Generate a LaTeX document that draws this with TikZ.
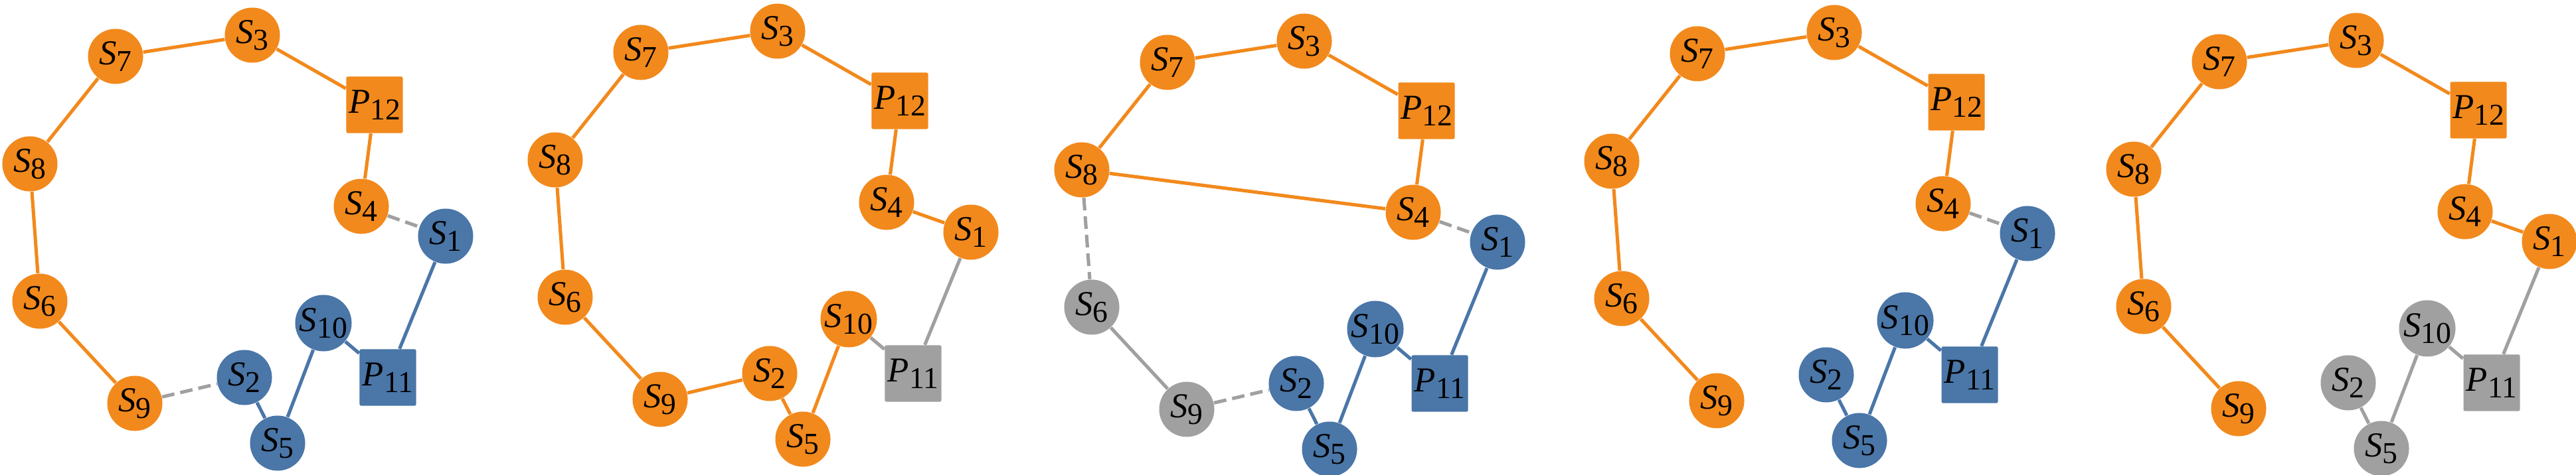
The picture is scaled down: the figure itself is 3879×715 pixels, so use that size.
\documentclass[tikz,border=0pt]{standalone}
\usepackage{fontspec}
\setmainfont{Liberation Serif}
\definecolor{og}{RGB}{242,137,28}
\definecolor{bl}{RGB}{74,118,168}
\definecolor{gr}{RGB}{160,160,160}
\newcommand{\lab}[2]{\textit{#1}\raisebox{-0.19em}{\fontsize{13}{13}\selectfont #2}}
\tikzset{
  sn/.style={circle, minimum size=0.83cm, inner sep=0pt, text=black, font=\fontsize{15}{15}\selectfont},
  sq/.style={rectangle, minimum size=0.85cm, inner sep=0pt, rounded corners=0.6pt, text=black, font=\fontsize{15}{15}\selectfont},
  O/.style={fill=og}, B/.style={fill=bl}, G/.style={fill=gr},
  eo/.style={draw=og, line width=1.45pt},
  eb/.style={draw=bl, line width=1.45pt},
  eg/.style={draw=gr, line width=1.45pt},
  ed/.style={draw=gr, line width=1.45pt, dash pattern=on 0.19cm off 0.09cm},
}
\begin{document}
\begin{tikzpicture}[x=0.01cm, y=-0.01cm]
\useasboundingbox (0,0) rectangle (3879,715);
% ---------- panel 1
\begin{scope}[shift={(0,2)}]
\node[sn,O] (aS7) at (174,83) {\lab{S}{7}};
\node[sn,O] (aS3) at (380,51) {\lab{S}{3}};
\node[sq,O] (aP12) at (564,156) {\lab{P}{12}};
\node[sn,O] (aS8) at (45,245) {\lab{S}{8}};
\node[sn,O] (aS4) at (544,309) {\lab{S}{4}};
\node[sn,B] (aS1) at (671,354) {\lab{S}{1}};
\node[sn,O] (aS6) at (60,452) {\lab{S}{6}};
\node[sn,B] (aS10) at (487,485) {\lab{S}{10}};
\node[sq,B] (aP11) at (584,567) {\lab{P}{11}};
\node[sn,O] (aS9) at (203,606) {\lab{S}{9}};
\node[sn,B] (aS2) at (368,567) {\lab{S}{2}};
\node[sn,B] (aS5) at (418,666) {\lab{S}{5}};
\end{scope}
\draw[eo] (aS7) -- (aS3); \draw[eo] (aS3) -- (aP12); \draw[eo] (aP12) -- (aS4);
\draw[eo] (aS7) -- (aS8); \draw[eo] (aS8) -- (aS6); \draw[eo] (aS6) -- (aS9);
\draw[ed] (aS4) -- (aS1); \draw[ed] (aS9) -- (aS2);
\draw[eb] (aS1) -- (aP11); \draw[eb] (aP11) -- (aS10); \draw[eb] (aS10) -- (aS5); \draw[eb] (aS5) -- (aS2);
% ---------- panel 2
\begin{scope}[shift={(791,-4)}]
\node[sn,O] (bS7) at (174,83) {\lab{S}{7}};
\node[sn,O] (bS3) at (380,51) {\lab{S}{3}};
\node[sq,O] (bP12) at (564,156) {\lab{P}{12}};
\node[sn,O] (bS8) at (45,245) {\lab{S}{8}};
\node[sn,O] (bS4) at (544,309) {\lab{S}{4}};
\node[sn,O] (bS1) at (671,354) {\lab{S}{1}};
\node[sn,O] (bS6) at (60,452) {\lab{S}{6}};
\node[sn,O] (bS10) at (487,485) {\lab{S}{10}};
\node[sq,G] (bP11) at (584,567) {\lab{P}{11}};
\node[sn,O] (bS9) at (203,606) {\lab{S}{9}};
\node[sn,O] (bS2) at (368,567) {\lab{S}{2}};
\node[sn,O] (bS5) at (418,666) {\lab{S}{5}};
\end{scope}
\draw[eo] (bS7) -- (bS3); \draw[eo] (bS3) -- (bP12); \draw[eo] (bP12) -- (bS4);
\draw[eo] (bS7) -- (bS8); \draw[eo] (bS8) -- (bS6); \draw[eo] (bS6) -- (bS9);
\draw[eo] (bS4) -- (bS1); \draw[eo] (bS9) -- (bS2); \draw[eo] (bS2) -- (bS5); \draw[eo] (bS5) -- (bS10);
\draw[eg] (bS10) -- (bP11); \draw[eg] (bP11) -- (bS1);
% ---------- panel 3
\begin{scope}[shift={(1584,11)}]
\node[sn,O] (cS7) at (174,83) {\lab{S}{7}};
\node[sn,O] (cS3) at (380,51) {\lab{S}{3}};
\node[sq,O] (cP12) at (564,156) {\lab{P}{12}};
\node[sn,O] (cS8) at (45,245) {\lab{S}{8}};
\node[sn,O] (cS4) at (544,309) {\lab{S}{4}};
\node[sn,B] (cS1) at (671,354) {\lab{S}{1}};
\node[sn,G] (cS6) at (60,452) {\lab{S}{6}};
\node[sn,B] (cS10) at (487,485) {\lab{S}{10}};
\node[sq,B] (cP11) at (584,567) {\lab{P}{11}};
\node[sn,G] (cS9) at (203,606) {\lab{S}{9}};
\node[sn,B] (cS2) at (368,567) {\lab{S}{2}};
\node[sn,B] (cS5) at (418,666) {\lab{S}{5}};
\end{scope}
\draw[eo] (cS7) -- (cS3); \draw[eo] (cS3) -- (cP12); \draw[eo] (cP12) -- (cS4);
\draw[eo] (cS7) -- (cS8); \draw[eo] (cS8) -- (cS4);
\draw[ed] (cS8) -- (cS6); \draw[eg] (cS6) -- (cS9);
\draw[ed] (cS4) -- (cS1); \draw[ed] (cS9) -- (cS2);
\draw[eb] (cS1) -- (cP11); \draw[eb] (cP11) -- (cS10); \draw[eb] (cS10) -- (cS5); \draw[eb] (cS5) -- (cS2);
% ---------- panel 4
\begin{scope}[shift={(2382,-2)}]
\node[sn,O] (dS7) at (174,83) {\lab{S}{7}};
\node[sn,O] (dS3) at (380,51) {\lab{S}{3}};
\node[sq,O] (dP12) at (564,156) {\lab{P}{12}};
\node[sn,O] (dS8) at (45,245) {\lab{S}{8}};
\node[sn,O] (dS4) at (544,309) {\lab{S}{4}};
\node[sn,B] (dS1) at (671,354) {\lab{S}{1}};
\node[sn,O] (dS6) at (60,452) {\lab{S}{6}};
\node[sn,B] (dS10) at (487,485) {\lab{S}{10}};
\node[sq,B] (dP11) at (584,567) {\lab{P}{11}};
\node[sn,O] (dS9) at (203,606) {\lab{S}{9}};
\node[sn,B] (dS2) at (368,567) {\lab{S}{2}};
\node[sn,B] (dS5) at (418,666) {\lab{S}{5}};
\end{scope}
\draw[eo] (dS7) -- (dS3); \draw[eo] (dS3) -- (dP12); \draw[eo] (dP12) -- (dS4);
\draw[eo] (dS7) -- (dS8); \draw[eo] (dS8) -- (dS6); \draw[eo] (dS6) -- (dS9);
\draw[ed] (dS4) -- (dS1);
\draw[eb] (dS1) -- (dP11); \draw[eb] (dP11) -- (dS10); \draw[eb] (dS10) -- (dS5); \draw[eb] (dS5) -- (dS2);
% ---------- panel 5
\begin{scope}[shift={(3168,10)}]
\node[sn,O] (eS7) at (174,83) {\lab{S}{7}};
\node[sn,O] (eS3) at (380,51) {\lab{S}{3}};
\node[sq,O] (eP12) at (564,156) {\lab{P}{12}};
\node[sn,O] (eS8) at (45,245) {\lab{S}{8}};
\node[sn,O] (eS4) at (544,309) {\lab{S}{4}};
\node[sn,O] (eS1) at (671,354) {\lab{S}{1}};
\node[sn,O] (eS6) at (60,452) {\lab{S}{6}};
\node[sn,G] (eS10) at (487,485) {\lab{S}{10}};
\node[sq,G] (eP11) at (584,567) {\lab{P}{11}};
\node[sn,O] (eS9) at (203,606) {\lab{S}{9}};
\node[sn,G] (eS2) at (368,567) {\lab{S}{2}};
\node[sn,G] (eS5) at (418,666) {\lab{S}{5}};
\end{scope}
\draw[eo] (eS7) -- (eS3); \draw[eo] (eS3) -- (eP12); \draw[eo] (eP12) -- (eS4);
\draw[eo] (eS4) -- (eS1);
\draw[eo] (eS7) -- (eS8); \draw[eo] (eS8) -- (eS6); \draw[eo] (eS6) -- (eS9);
\draw[eg] (eS1) -- (eP11); \draw[eg] (eP11) -- (eS10); \draw[eg] (eS10) -- (eS5); \draw[eg] (eS5) -- (eS2);
\end{tikzpicture}
\end{document}
